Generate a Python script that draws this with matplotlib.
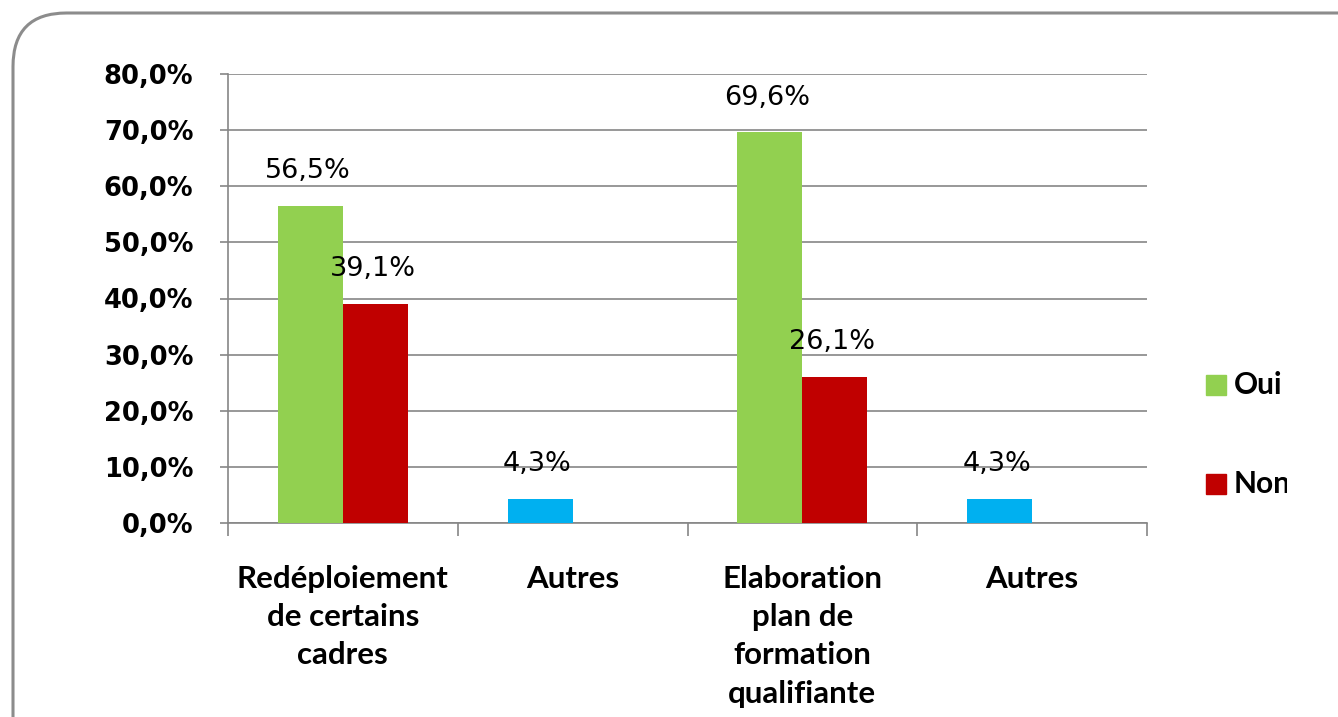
import matplotlib.pyplot as plt
import numpy as np
from matplotlib.patches import FancyBboxPatch, Rectangle
from matplotlib.transforms import Bbox

categories = ['Redéploiement\nde certains\ncadres', 'Autres',
              'Elaboration\nplan de\nformation\nqualifiante', 'Autres']
oui = [56.5, 4.3, 69.6, 4.3]
non = [39.1, 0.0, 26.1, 0.0]
oui_colors = ['#92D050', '#00B0F0', '#92D050', '#00B0F0']
yticks = [0, 10, 20, 30, 40, 50, 60, 70, 80]

W, H = 1338, 717
fig = plt.figure(figsize=(W / 100, H / 100), dpi=100)

# rounded border
border = FancyBboxPatch((13 / W, -0.2), 1.3, 1.2 - 13 / H + 0.0,
                        boxstyle='round,pad=0,rounding_size=0.04',
                        transform=fig.transFigure, fill=False,
                        edgecolor='#8c8c8c', linewidth=2.2,
                        mutation_aspect=W / H)
fig.patches.append(border)

ax = fig.add_axes([228 / W, 1 - 523 / H, (1147 - 228) / W, (523 - 74) / H])
x = np.arange(len(categories))
bw = 65 / 230
ax.bar(x - bw / 2, oui, bw, color=oui_colors, zorder=3)
ax.bar(x + bw / 2, non, bw, color='#C00000', zorder=3)

for xi, v in zip(x - bw / 2, oui):
    if v > 0:
        ax.annotate(f'{v:.1f}%'.replace('.', ','), (xi, v), xytext=(-2, 25),
                    textcoords='offset points', ha='center', va='center',
                    fontsize=19.5, family='DejaVu Sans')
for xi, v in zip(x + bw / 2, non):
    if v > 0:
        ax.annotate(f'{v:.1f}%'.replace('.', ','), (xi, v), xytext=(-2, 25),
                    textcoords='offset points', ha='center', va='center',
                    fontsize=19.5, family='DejaVu Sans')

ax.set_xlim(-0.5, 3.5)
ax.set_ylim(0, 80)
ax.set_yticks(yticks)
ax.set_yticklabels([f'{t:.1f}%'.replace('.', ',') for t in yticks],
                   fontsize=18.5, fontweight='bold', family='DejaVu Sans')
ax.yaxis.grid(True, color='#868686', linewidth=1.2, zorder=0)
ax.set_xticks(np.arange(-0.5, 4, 1))
ax.set_xticklabels([])
ax.set_xticks(x, minor=True)
ax.set_xticklabels(categories, minor=True, fontsize=22.5, fontweight='bold',
                   family='Lato', linespacing=1.45)
ax.tick_params(axis='x', which='minor', length=0, pad=30)
ax.tick_params(axis='x', which='major', length=9, color='#868686', width=1.2)
ax.tick_params(axis='y', length=6, color='#868686', width=1.2, pad=19)
for s in ['top', 'right']:
    ax.spines[s].set_visible(False)
for s in ['left', 'bottom']:
    ax.spines[s].set_color('#868686')
    ax.spines[s].set_linewidth(1.2)

# legend (clipped at right edge like the reference)
clip = Bbox.from_extents(0, 0, 1287, H)
for label, col, yc in [('Oui', '#92D050', 385), ('Non', '#C00000', 484)]:
    fig.patches.append(Rectangle((1206 / W, 1 - (yc + 10) / H), 20 / W, 20 / H,
                                 transform=fig.transFigure, color=col))
    t = fig.text(1234 / W, 1 - yc / H, label, fontsize=21.5, fontweight='bold',
                 family='Lato', va='center', ha='left')
    t.set_clip_box(clip)
    t.set_clip_on(True)

fig.savefig('out.png', dpi=100)
